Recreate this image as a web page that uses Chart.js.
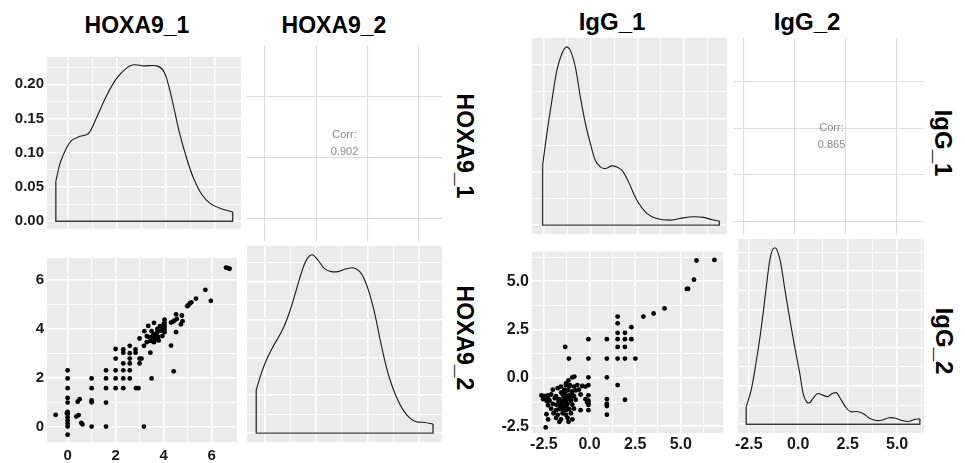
<!DOCTYPE html>
<html>
<head>
<meta charset="utf-8">
<script src="https://cdn.jsdelivr.net/npm/chart.js@4.4.1/dist/chart.umd.min.js"></script>
<style>
  html, body { margin: 0; padding: 0; background: #fff; }
  #wrap { position: relative; width: 965px; height: 463px; overflow: hidden;
          font-family: 'Liberation Sans', Arial, sans-serif; }
  #wrap canvas { position: absolute; }
  .strip { position: absolute; font-weight: bold; color: #000; white-space: nowrap;
           line-height: 1; transform: translate(-50%, -50%); }
  .strip.side { transform: translate(-50%, -50%) rotate(90deg); }
</style>
</head>
<body>
<div id="wrap"></div>
<script>
// variable names and correlations
const hoxaNames = ['HOXA9_1', 'HOXA9_2'];
const iggNames = ['IgG_1', 'IgG_2'];
const hoxaCorr = 0.902;
const iggCorr = 0.865;

// HOXA9 replicate scatter (x = HOXA9_1, y = HOXA9_2)
const hoxa1 = [-0.5, 0, 0, 0, 0, 0, 0, 0, 0, 0, 0, 0, 0, -0.03, 0.36, 0.46, 0.42, 0.5, 0.57, 0.62,
  1, 1, 1, 1, 1, 1.6, 1.6, 1.6, 1.6, 1.6, 2, 2, 2, 2, 2, 2.32, 2.32, 2.32, 2.32, 2.32, 2.32,
  2.59, 2.59, 2.59, 2.59, 2.59, 2.59, 2.83, 2.83, 2.85, 2.95, 3.0, 3.0, 3.08, 3.0, 3.18, 3.18,
  3.2, 3.36, 3.36, 3.3, 3.45, 3.5, 3.56, 3.6, 3.63, 3.65, 3.7, 3.74, 3.74, 3.77, 3.8, 3.5, 3.58,
  3.45, 3.5, 3.9, 3.97, 4.04, 4.04, 4.04, 4.04, 4.04, 4.0, 4.31, 4.42, 4.52, 4.31, 4.38, 4.45,
  4.55, 4.72, 4.79, 4.52, 4.76, 4.99, 5.04, 5.1, 5.16, 5.35, 5.74, 5.97, 6.6, 6.68, 6.75,
  3.85, 3.95, 3.6, 3.3];
const hoxa2 = [0.48, 2.3, 1.97, 1.57, 1.17, 0.98, 0.6, 0.52, 0.38, 0.25, 0.12, 0.0, -0.33, 0.55, 0.41, 0.47, 1.02, 1.12, 0.15, 0.09,
  1.97, 1.57, 1.07, 0.99, 0.0, 2.3, 1.97, 1.57, 0.98, 0.0, 3.17, 2.78, 2.3, 1.97, 1.57, 3.15, 3.02, 2.58, 2.3, 1.97, 1.57,
  3.3, 3.0, 2.78, 2.58, 2.3, 1.97, 3.15, 3.02, 1.57, 1.57, 3.6, 2.78, 2.78, 2.58, 3.3, 0.0,
  3.9, 4.11, 3.67, 3.45, 3.5, 3.67, 3.48, 4.24, 3.67, 3.55, 3.78, 3.99, 3.86, 3.67, 3.52, 3.9, 3.78,
  3.02, 1.97, 3.92, 4.05, 4.37, 4.24, 4.11, 3.99, 3.86, 4.18, 3.31, 2.26, 3.86, 4.25, 4.28, 4.33,
  4.4, 4.18, 4.31, 4.59, 4.54, 4.92, 4.97, 5.04, 5.08, 5.23, 5.59, 5.14, 6.5, 6.48, 6.45,
  4.1, 3.7, 3.45, 3.7];

// IgG replicate scatter (x = IgG_1, y = IgG_2)
const igg1 = [5.86, 6.84, 5.72, 5.33, 5.4, 4.11, 3.51, 2.95,
  1.54, 1.54, 1.54, 1.94, 2.29, 1.54, 1.94, 2.29, 1.54, 1.94, 1.54, 1.94, 2.51, 1.54, 1.94,
  0.95, 0.95, 0.95, 0.95, 0.95, 0.95, 0.95, 0.95,
  -0.06, -0.06, -0.06, -0.06, -0.06, -0.06, -0.06, -0.06, -0.06,
  -1.33, -1.13, -0.94, -0.83, -1.15, -1.29, -1.08, -0.22,
  -1.74, -1.56, -1.29, -1.11, -0.85, -0.67, -0.4,
  -2.01, -1.38, -1.2, -0.97, -0.76, -0.58,
  -2.63, -2.45, -2.27, -2.1, -1.83, -1.47, -1.29, -1.11, -0.85, -0.49,
  -2.54, -2.27, -2.19, -1.65, -1.38, -1.2, -1.02, -0.76, -0.22,
  -2.27, -2.01, -1.74, -1.56, -1.38, -1.2, -0.94, -0.13,
  -2.1, -1.83, -1.65, -1.43, -1.29, -1.11, -0.85, -0.49,
  -2.36, -1.97, -1.74, -1.47, -1.29, -1.02,
  -2.27, -1.83, -1.56, -1.2, -0.94, -1.65, -1.15, -2.4,
  -1.5, -1.4, -1.6, -1.3, -1.7, -1.0, -1.45, -1.25, -1.55, -1.35, -0.95, -1.8, -1.9, -2.4, -2.5, -2.35];
const igg2 = [6.07, 6.1, 5.08, 4.6, 4.6, 3.59, 3.33, 3.17,
  3.17, 2.82, 2.33, 2.33, 2.62, 2.0, 2.0, 2.0, 1.6, 1.6, 1.0, 1.0, 1.0, -0.37, -1.13,
  2.0, 1.0, 0.03, -1.1, -1.34, -1.46, -1.9, -1.4,
  2.0, 1.0, 0.03, -0.37, -0.9, -1.18, -1.3, -1.4, -1.67,
  1.6, 1.0, 0.03, 0.07, -0.13, -0.29, -0.37, -0.45,
  -0.53, -0.45, -0.37, -0.45, -0.45, -0.37, -0.42,
  -0.61, -0.61, -0.65, -0.7, -0.65, -0.61,
  -0.91, -0.94, -0.91, -0.86, -0.94, -0.86, -0.94, -0.91, -0.94, -0.86,
  -1.1, -1.07, -1.18, -1.1, -1.13, -1.1, -1.18, -1.13, -1.1,
  -1.42, -1.34, -1.39, -1.34, -1.42, -1.34, -1.39, -1.26,
  -1.59, -1.67, -1.62, -1.55, -1.67, -1.62, -1.59, -1.67,
  -1.88, -1.83, -1.91, -1.83, -1.91, -1.83,
  -2.15, -2.07, -2.15, -2.07, -2.15, -2.27, -2.27, -2.56,
  -1.2, -1.0, -1.5, -1.25, -1.2, -1.0, -1.6, -1.5, -0.75, -0.8, -0.85, -1.4, -1.05, -1.0, -0.95, -1.2];

// kernel density outlines for the diagonal
const hoxa1DensX = [-0.5, -0.33, -0.12, 0.15, 0.49, 0.83, 1.17, 1.58, 1.99, 2.4, 2.67, 3.08, 3.62, 3.89, 4.1, 4.3, 4.57, 4.84, 5.12, 5.46, 5.8, 6.2, 6.72];
const hoxa1DensY = [0.058, 0.084, 0.103, 0.118, 0.124, 0.128, 0.152, 0.184, 0.209, 0.224, 0.2285, 0.227, 0.227, 0.22, 0.199, 0.169, 0.126, 0.092, 0.063, 0.039, 0.026, 0.019, 0.0136];
const hoxa2DensX = [-0.33, -0.13, 0.06, 0.32, 0.58, 0.78, 0.97, 1.17, 1.36, 1.56, 1.72, 1.88, 2.07, 2.33, 2.59, 2.85, 3.11, 3.43, 3.7, 3.89, 4.08, 4.28, 4.47, 4.67, 4.86, 5.12, 5.38, 5.64, 5.9, 6.22, 6.55];
const hoxa2DensY = [0.057, 0.079, 0.096, 0.114, 0.129, 0.143, 0.16, 0.182, 0.204, 0.224, 0.233, 0.235, 0.228, 0.217, 0.213, 0.213, 0.216, 0.218, 0.213, 0.202, 0.184, 0.158, 0.127, 0.096, 0.072, 0.048, 0.031, 0.02, 0.015, 0.014, 0.012];
const igg1DensX = [-2.58, -2.35, -2.08, -1.81, -1.54, -1.31, -1.1, -0.83, -0.56, -0.29, -0.02, 0.24, 0.51, 0.78, 1.13, 1.4, 1.67, 2.03, 2.47, 3.01, 3.54, 4.26, 4.79, 5.5, 6.04, 6.58, 6.9];
const igg1DensY = [0.1125, 0.172, 0.234, 0.291, 0.322, 0.334, 0.328, 0.297, 0.241, 0.191, 0.153, 0.122, 0.109, 0.106, 0.111, 0.109, 0.103, 0.081, 0.047, 0.022, 0.0125, 0.0094, 0.0125, 0.0156, 0.0144, 0.0094, 0.0075];
const igg2DensX = [-2.63, -2.38, -2.14, -1.89, -1.64, -1.45, -1.31, -1.18, -1.07, -0.9, -0.66, -0.41, -0.17, 0.08, 0.25, 0.41, 0.57, 0.74, 0.98, 1.23, 1.48, 1.72, 1.94, 2.13, 2.38, 2.63, 2.95, 3.28, 3.61, 3.94, 4.27, 4.6, 4.92, 5.25, 5.58, 5.91, 6.15];
const igg2DensY = [0.0457, 0.089, 0.158, 0.244, 0.347, 0.425, 0.455, 0.461, 0.455, 0.425, 0.347, 0.27, 0.2, 0.132, 0.08, 0.059, 0.056, 0.067, 0.08, 0.076, 0.072, 0.08, 0.082, 0.067, 0.046, 0.033, 0.033, 0.028, 0.0155, 0.0095, 0.011, 0.017, 0.0155, 0.0095, 0.0069, 0.0129, 0.0138];

// axis breaks
const hoxaTicks = [0, 2, 4, 6];
const hoxaDensTicks = [0, 0.05, 0.1, 0.15, 0.2];
const iggTicks = [-2.5, 0, 2.5, 5];
const igg1DensTicks = [0, 0.1, 0.2, 0.3];
const igg2DensTicks = [0, 0.1, 0.2, 0.3, 0.4];

const FONT = "'Liberation Sans', Arial, sans-serif";
const wrap = document.getElementById('wrap');

// grey panel background (ggplot style)
const panelBg = {
  id: 'panelBg',
  beforeDraw(chart, args, opts) {
    const a = chart.chartArea, c = chart.ctx;
    c.save();
    c.fillStyle = opts.color || '#fff';
    c.fillRect(a.left, a.top, a.right - a.left, a.bottom - a.top);
    c.restore();
  }
};

// "Corr:" text in the upper triangle
const corrText = {
  id: 'corrText',
  afterDraw(chart, args, opts) {
    if (opts.value === undefined) return;
    const a = chart.chartArea, c = chart.ctx;
    const cx = (a.left + a.right) / 2 + (opts.dx || 0), cy = (a.top + a.bottom) / 2 + (opts.dy || 0);
    c.save();
    c.fillStyle = '#8a8a8a';
    c.font = '11px ' + FONT;
    c.textAlign = 'center';
    c.textBaseline = 'middle';
    c.fillText('Corr:', cx, cy - 8.5);
    c.fillText(opts.value.toFixed(3), cx, cy + 8.5);
    c.restore();
  }
};

function minorBreaks(major, min, max) {
  const step = major[1] - major[0];
  const out = [];
  for (let i = -1; i < major.length; i++) out.push(+(major[0] + step * (i + 0.5)).toFixed(6));
  const m = (max - min) * 0.01;
  return out.filter(v => v > min + m && v < max - m);
}

function axis(s, dir, room) {
  const minors = s.minor ? minorBreaks(s.major, s.min, s.max) : [];
  const isMajor = v => s.major.some(m => Math.abs(m - v) < 1e-9);
  return {
    type: 'linear',
    min: s.min,
    max: s.max,
    afterBuildTicks: a => {
      a.ticks = s.major.concat(minors)
        .filter(v => v >= s.min && v <= s.max)
        .sort((p, q) => p - q)
        .map(v => ({ value: v }));
    },
    afterFit: a => { if (dir === 'x') a.height = room; else a.width = room; },
    border: { display: false },
    grid: {
      color: s.grid,
      lineWidth: c => (isMajor(c.tick.value) ? s.majorW : s.minorW),
      drawTicks: false
    },
    ticks: {
      display: !!s.fmt,
      autoSkip: false,
      maxRotation: 0,
      padding: s.pad || 3,
      color: '#1a1a1a',
      font: { family: FONT, size: s.size || 15, weight: 'bold' },
      callback: v => (isMajor(v) && s.fmt ? s.fmt(v) : '')
    }
  };
}

function panel(cfg) {
  const padL = cfg.padL || 0, padB = cfg.padB || 0;
  const cv = document.createElement('canvas');
  cv.width = cfg.w + padL;
  cv.height = cfg.h + padB;
  cv.style.left = (cfg.x - padL) + 'px';
  cv.style.top = cfg.y + 'px';
  wrap.appendChild(cv);
  return new Chart(cv, {
    type: 'scatter',
    data: { datasets: cfg.datasets || [] },
    options: {
      responsive: false,
      animation: false,
      events: [],
      layout: { padding: 0 },
      plugins: {
        legend: { display: false },
        tooltip: { enabled: false },
        panelBg: { color: cfg.bg },
        corrText: cfg.corr || {}
      },
      scales: { x: axis(cfg.xs, 'x', padB), y: axis(cfg.ys, 'y', padL) }
    },
    plugins: [panelBg, corrText]
  });
}

function pointsOf(xs, ys) {
  return [{
    data: xs.map((x, i) => ({ x, y: ys[i] })),
    pointRadius: 2.4,
    pointBackgroundColor: '#000',
    pointBorderWidth: 0,
    showLine: false
  }];
}

function densityOf(xs, ys) {
  const n = xs.length - 1;
  return [{
    data: xs.map((x, i) => ({ x, y: ys[i] })),
    showLine: true, tension: 0.35, pointRadius: 0,
    borderColor: '#1a1a1a', borderWidth: 1.1
  }, {
    data: [{ x: xs[0], y: ys[0] }, { x: xs[0], y: 0 }, { x: xs[n], y: 0 }, { x: xs[n], y: ys[n] }],
    showLine: true, tension: 0, pointRadius: 0,
    borderColor: '#3a3a3a', borderWidth: 1.4
  }];
}

function densRange(ys) {
  const top = Math.max(...ys);
  return { min: -0.05 * top, max: 1.05 * top };
}

const grey = { grid: '#ffffff', majorW: 1.5, minorW: 0.8, minor: true };
const plain = { grid: '#dcdcdc', majorW: 1.1, minor: false };

function strip(text, x, y, size, side) {
  const d = document.createElement('div');
  d.className = 'strip' + (side ? ' side' : '');
  d.textContent = text;
  d.style.left = x + 'px';
  d.style.top = y + 'px';
  d.style.fontSize = size + 'px';
  wrap.appendChild(d);
}

// ---------- HOXA9 matrix ----------
const hx1 = { min: -0.86, max: 7.06, major: hoxaTicks };
const hx2 = { min: -0.69, max: 6.9, major: hoxaTicks };
const hy2 = { min: -0.63, max: 6.89, major: hoxaTicks };
const intFmt = v => String(v);

panel({ x: 47, y: 45, w: 194, h: 196, padL: 47, bg: '#ebebeb',
  xs: Object.assign({}, grey, hx1),
  ys: Object.assign({}, grey, densRange(hoxa1DensY), { major: hoxaDensTicks, fmt: v => v.toFixed(2), size: 15 }),
  datasets: densityOf(hoxa1DensX, hoxa1DensY) });

panel({ x: 247, y: 45, w: 195, h: 196, bg: '#ffffff',
  xs: Object.assign({}, plain, hx2),
  ys: Object.assign({}, plain, { min: -0.74, max: 5.69, major: [0, 2, 4] }),
  corr: { value: hoxaCorr } });

panel({ x: 47, y: 246, w: 194, h: 196, padL: 47, padB: 21, bg: '#ebebeb',
  xs: Object.assign({}, grey, hx1, { fmt: intFmt, size: 15, pad: 5 }),
  ys: Object.assign({}, grey, hy2, { fmt: intFmt, size: 15 }),
  datasets: pointsOf(hoxa1, hoxa2) });

panel({ x: 247, y: 246, w: 195, h: 196, bg: '#ebebeb',
  xs: Object.assign({}, grey, hx2),
  ys: Object.assign({}, grey, densRange(hoxa2DensY), { major: hoxaDensTicks }),
  datasets: densityOf(hoxa2DensX, hoxa2DensY) });

strip(hoxaNames[0], 137, 25, 23, false);
strip(hoxaNames[1], 334, 25, 23, false);
strip(hoxaNames[0], 464, 146, 23, true);
strip(hoxaNames[1], 464, 338, 23, true);

// ---------- IgG matrix ----------
const gx1 = { min: -3.15, max: 7.31, major: iggTicks };
const gx2 = { min: -3.04, max: 6.36, major: iggTicks };
const gy2 = { min: -2.85, max: 6.53, major: iggTicks };
const oneFmt = v => v.toFixed(1);

panel({ x: 532, y: 38, w: 195, h: 196, bg: '#ebebeb',
  xs: Object.assign({}, grey, gx1),
  ys: Object.assign({}, grey, densRange(igg1DensY), { major: igg1DensTicks }),
  datasets: densityOf(igg1DensX, igg1DensY) });

panel({ x: 733, y: 38, w: 191, h: 196, bg: '#ffffff',
  xs: Object.assign({}, plain, gx2),
  ys: Object.assign({}, plain, gx1),
  corr: { value: iggCorr, dx: 3 } });

panel({ x: 532, y: 239, w: 195, h: 194, padL: 52, padB: 30, bg: '#ebebeb',
  xs: Object.assign({}, grey, gx1, { fmt: oneFmt, size: 16, pad: 2 }),
  ys: Object.assign({}, grey, gy2, { fmt: oneFmt, size: 16 }),
  datasets: pointsOf(igg1, igg2) });

panel({ x: 733, y: 239, w: 191, h: 194, padB: 30, bg: '#ebebeb',
  xs: Object.assign({}, grey, gx2, { fmt: oneFmt, size: 16, pad: 2 }),
  ys: Object.assign({}, grey, densRange(igg2DensY), { major: igg2DensTicks }),
  datasets: densityOf(igg2DensX, igg2DensY) });

strip(iggNames[0], 612, 22, 24, false);
strip(iggNames[1], 807, 22, 24, false);
strip(iggNames[0], 943, 143, 24, true);
strip(iggNames[1], 944, 341, 24, true);
</script>
</body>
</html>
